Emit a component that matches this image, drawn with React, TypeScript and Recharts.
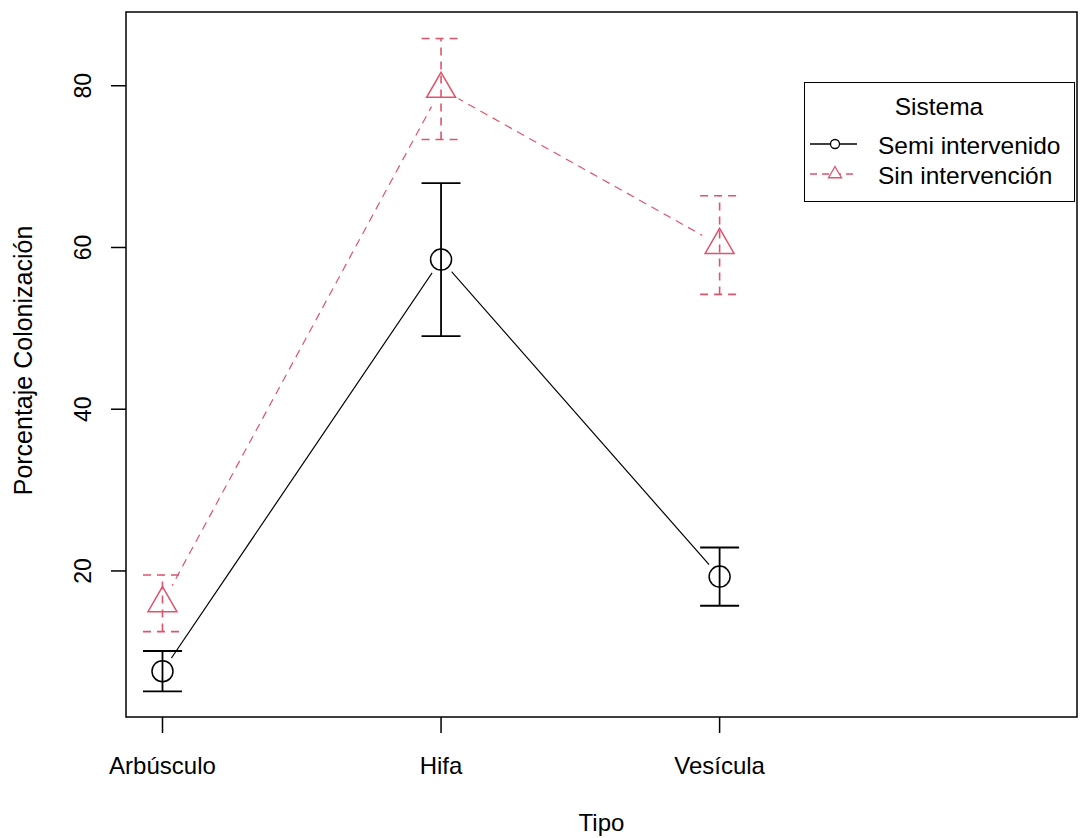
import React from 'react';
import {
  ComposedChart,
  Line,
  XAxis,
  YAxis,
  ErrorBar,
  ReferenceArea,
  Legend,
  Label,
} from 'recharts';

// Categorías del eje X
const tipos = ['Arbúsculo', 'Hifa', 'Vesícula'];
// Sistema "Semi intervenido": media y error
const semiMedia = [7.6, 58.5, 19.3];
const semiError = [2.5, 9.45, 3.6];
// Sistema "Sin intervención": media y error
const sinMedia = [16.0, 79.6, 60.3];
const sinError = [3.5, 6.25, 6.1];
// Marcas de los ejes
const yTicks = [20, 40, 60, 80];
const xTicks = [1, 2, 3];

const BLACK = '#000000';
const RED = '#DF536B';
const FONT = '"Liberation Sans", Arial, sans-serif';
const DASH = '8 6';

const X_DOMAIN: [number, number] = [0.869, 4.283];
const Y_DOMAIN: [number, number] = [1.94, 89.12];

const data = tipos.map((tipo, i) => ({
  pos: i + 1,
  tipo,
  semi: semiMedia[i],
  semiErr: semiError[i],
  sin: sinMedia[i],
  sinErr: sinError[i],
}));

// Círculo abierto con un halo blanco que corta la línea junto al punto
const CircleDot = (props: any) => {
  const { cx, cy } = props;
  if (cx == null || cy == null) return <g />;
  return (
    <g>
      <circle cx={cx} cy={cy} r={16} fill="#ffffff" />
      <circle cx={cx} cy={cy} r={10.5} fill="none" stroke={BLACK} strokeWidth={1.5} />
    </g>
  );
};

// Triángulo abierto (vértice arriba) con halo blanco
const TriangleDot = (props: any) => {
  const { cx, cy } = props;
  if (cx == null || cy == null) return <g />;
  const r = 16.7;
  const hx = 0.866 * r;
  const pts = `${cx},${cy - r} ${cx + hx},${cy + r / 2} ${cx - hx},${cy + r / 2}`;
  return (
    <g>
      <circle cx={cx} cy={cy} r={20} fill="#ffffff" />
      <polygon points={pts} fill="none" stroke={RED} strokeWidth={1.5} />
    </g>
  );
};

const XTick = (props: any) => {
  const { x, y, payload } = props;
  return (
    <text x={x} y={y + 39} textAnchor="middle" fontSize={24} fontFamily={FONT} fill="#000">
      {tipos[payload.value - 1]}
    </text>
  );
};

const YTick = (props: any) => {
  const { x, y, payload } = props;
  const bx = x - 18;
  return (
    <text
      x={bx}
      y={y}
      transform={`rotate(-90, ${bx}, ${y})`}
      textAnchor="middle"
      fontSize={23}
      fontFamily={FONT}
      fill="#000"
    >
      {payload.value}
    </text>
  );
};

const YTitle = (props: any) => {
  const vb = props.viewBox;
  const bx = vb.x + 32;
  const cy = vb.y + vb.height / 2 - 4;
  return (
    <text
      x={bx}
      y={cy}
      transform={`rotate(-90, ${bx}, ${cy})`}
      textAnchor="middle"
      fontSize={25}
      fontFamily={FONT}
      fill="#000"
    >
      Porcentaje Colonización
    </text>
  );
};

const XTitle = (props: any) => {
  const vb = props.viewBox;
  return (
    <text
      x={vb.x + vb.width / 2}
      y={vb.y + 114}
      textAnchor="middle"
      fontSize={24}
      fontFamily={FONT}
      fill="#000"
    >
      Tipo
    </text>
  );
};

const LegendBox = (props: any) => {
  const items = (props.payload || []).filter((p: any) => p.type !== 'none');
  return (
    <div
      style={{
        width: 271,
        height: 120,
        boxSizing: 'border-box',
        border: '1.5px solid #000',
        background: '#fff',
      }}
    >
      <svg width={268} height={117} style={{ display: 'block' }}>
        <text x={134} y={32} textAnchor="middle" fontSize={24.5} fontFamily={FONT} fill="#000">
          Sistema
        </text>
        {items.map((it: any, i: number) => {
          const ly = 61 + i * 30;
          const isSemi = it.dataKey === 'semi';
          const color = it.color;
          return (
            <g key={String(it.value)}>
              <line
                x1={5}
                x2={52}
                y1={ly}
                y2={ly}
                stroke={color}
                strokeWidth={1.3}
                strokeDasharray={isSemi ? undefined : '7 5'}
              />
              {isSemi ? (
                <circle cx={30} cy={ly} r={4.5} fill="#fff" stroke={color} strokeWidth={1.3} />
              ) : (
                <polygon
                  points={`30,${ly - 7.5} ${36.5},${ly + 3.75} ${23.5},${ly + 3.75}`}
                  fill="#fff"
                  stroke={color}
                  strokeWidth={1.3}
                />
              )}
              <text x={73} y={ly + 10} fontSize={24.5} fontFamily={FONT} fill="#000">
                {it.value}
              </text>
            </g>
          );
        })}
      </svg>
    </div>
  );
};

export default function App() {
  return (
    <div style={{ position: 'fixed', left: 0, top: 0, width: 1081, height: 838, background: '#fff' }}>
      <ComposedChart
        width={1081}
        height={838}
        data={data}
        margin={{ top: 12, right: 4, bottom: 0, left: 0 }}
      >
        <XAxis
          dataKey="pos"
          type="number"
          domain={X_DOMAIN}
          allowDataOverflow
          ticks={xTicks}
          interval={0}
          axisLine={false}
          tickLine={{ stroke: BLACK, strokeWidth: 1.5 }}
          tickSize={16}
          height={121}
          tick={<XTick />}
        >
          <Label content={<XTitle />} />
        </XAxis>
        <YAxis
          type="number"
          domain={Y_DOMAIN}
          allowDataOverflow
          ticks={yTicks}
          interval={0}
          axisLine={false}
          tickLine={{ stroke: BLACK, strokeWidth: 1.5 }}
          tickSize={15}
          width={126}
          tick={<YTick />}
        >
          <Label content={<YTitle />} />
        </YAxis>
        <ReferenceArea
          x1={X_DOMAIN[0]}
          x2={X_DOMAIN[1]}
          y1={Y_DOMAIN[0]}
          y2={Y_DOMAIN[1]}
          fill="none"
          stroke={BLACK}
          strokeWidth={1.5}
          ifOverflow="visible"
        />
        <Line
          dataKey="semi"
          name="Semi intervenido"
          type="linear"
          stroke={BLACK}
          strokeWidth={1.2}
          dot={<CircleDot />}
          activeDot={false}
          isAnimationActive={false}
        >
          <ErrorBar
            dataKey="semiErr"
            direction="y"
            width={19.5}
            stroke={BLACK}
            strokeWidth={1.8}
            zIndex={2000}
            isAnimationActive={false}
          />
        </Line>
        <Line
          dataKey="sin"
          name="Sin intervención"
          type="linear"
          stroke={RED}
          strokeWidth={1.2}
          strokeDasharray={DASH}
          dot={<TriangleDot />}
          activeDot={false}
          isAnimationActive={false}
        >
          <ErrorBar
            dataKey="sinErr"
            direction="y"
            width={19.5}
            stroke={RED}
            strokeWidth={1.6}
            strokeDasharray={DASH}
            zIndex={2000}
            isAnimationActive={false}
          />
        </Line>
        <Legend
          layout="vertical"
          align="center"
          verticalAlign="middle"
          content={<LegendBox />}
          wrapperStyle={{ left: 804, top: 82, width: 271, height: 120 }}
        />
      </ComposedChart>
    </div>
  );
}
